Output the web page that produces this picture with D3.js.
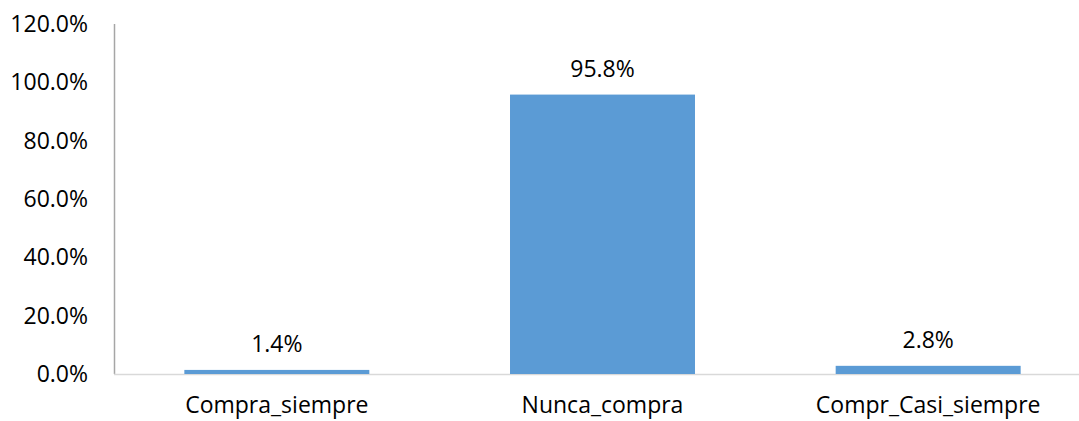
<!DOCTYPE html>
<html>
<head>
<meta charset="utf-8">
<script src="https://cdn.jsdelivr.net/npm/d3@7"></script>
<style>
  body { margin: 0; background: #fff; }
  text { font-family: "Open Sans", "Noto Sans", sans-serif; fill: #000; }
</style>
</head>
<body>
<svg width="1079" height="421"></svg>
<script>
const categories = ["Compra_siempre", "Nunca_compra", "Compr_Casi_siempre"];
const values = [1.4, 95.8, 2.8];
const yTicks = [0, 20, 40, 60, 80, 100, 120];

var svg = d3.select("svg");

var x = d3.scaleBand()
    .domain(categories)
    .range([114, 1091])
    .paddingInner(0.432)
    .paddingOuter(0.216);

var y = d3.scaleLinear()
    .domain([0, 120])
    .range([374, 24]);

// y axis line
svg.append("line")
    .attr("x1", 114.5).attr("x2", 114.5)
    .attr("y1", y(120)).attr("y2", y(0))
    .attr("stroke", "#a6a6a6").attr("stroke-width", 1.5);

// baseline
svg.append("line")
    .attr("x1", 114).attr("x2", 1079)
    .attr("y1", y(0) + 0.5).attr("y2", y(0) + 0.5)
    .attr("stroke", "#d9d9d9").attr("stroke-width", 1.5);

svg.append("g").selectAll("text")
    .data(yTicks)
    .enter().append("text")
    .attr("x", 88)
    .attr("y", d => y(d))
    .attr("dy", "0.35em")
    .attr("text-anchor", "end")
    .style("font-size", "23px")
    .text(d => d.toFixed(1) + "%");

svg.append("g").selectAll("rect")
    .data(values)
    .enter().append("rect")
    .attr("x", (d, i) => x(categories[i]))
    .attr("width", x.bandwidth())
    .attr("y", d => y(d))
    .attr("height", d => y(0) - y(d))
    .attr("fill", "#5b9bd5");

svg.append("g").selectAll("text")
    .data(values)
    .enter().append("text")
    .attr("x", (d, i) => x(categories[i]) + x.bandwidth() / 2)
    .attr("y", d => y(d) - 18)
    .attr("text-anchor", "middle")
    .style("font-size", "23px")
    .text(d => d.toFixed(1) + "%");

svg.append("g").selectAll("text")
    .data(categories)
    .enter().append("text")
    .attr("x", d => x(d) + x.bandwidth() / 2)
    .attr("y", 413)
    .attr("text-anchor", "middle")
    .style("font-size", "23px")
    .text(d => d);
</script>
</body>
</html>
